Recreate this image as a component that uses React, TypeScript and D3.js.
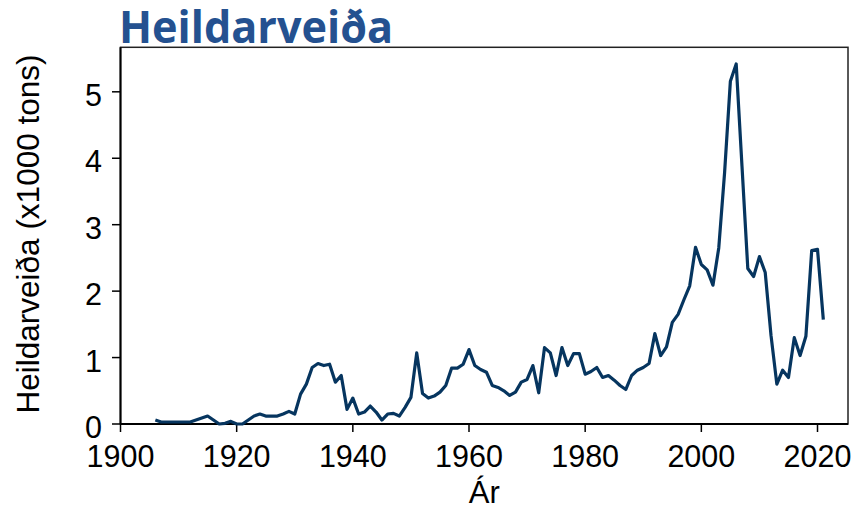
import React from "react";
import * as d3 from "d3";

const years: number[] = d3.range(1906, 2022);
const catch1000t: number[] = [
  0.06, 0.03, 0.03, 0.03, 0.03, 0.03, 0.03, 0.06, 0.09, 0.12, // 1906-1915
  0.06, 0.0, 0.01, 0.04, 0.0, 0.0, 0.06, 0.12, 0.15, 0.12, // 1916-1925
  0.12, 0.12, 0.15, 0.19, 0.15, 0.45, 0.6, 0.85, 0.91, 0.88, // 1926-1935
  0.9, 0.63, 0.73, 0.22, 0.39, 0.15, 0.18, 0.27, 0.18, 0.06, // 1936-1945
  0.15, 0.16, 0.12, 0.25, 0.4, 1.07, 0.46, 0.39, 0.42, 0.48, // 1946-1955
  0.58, 0.84, 0.84, 0.9, 1.12, 0.88, 0.82, 0.78, 0.58, 0.55, // 1956-1965
  0.5, 0.43, 0.48, 0.63, 0.67, 0.88, 0.47, 1.15, 1.07, 0.73, // 1966-1975
  1.15, 0.88, 1.06, 1.06, 0.75, 0.79, 0.85, 0.7, 0.73, 0.66, // 1976-1985
  0.58, 0.52, 0.73, 0.81, 0.85, 0.91, 1.36, 1.03, 1.16, 1.53, // 1986-1995
  1.65, 1.87, 2.08, 2.66, 2.4, 2.32, 2.09, 2.65, 3.78, 5.16, // 1996-2005
  5.42, 3.88, 2.34, 2.22, 2.52, 2.28, 1.33, 0.6, 0.81, 0.7, // 2006-2015
  1.3, 1.03, 1.32, 2.61, 2.63, 1.57, // 2016-2021
];
const xTicks: number[] = [1900, 1920, 1940, 1960, 1980, 2000, 2020];
const yTicks: number[] = [0, 1, 2, 3, 4, 5];
const title = "Heildarveiða";
const xLabel = "Ár";
const yLabel = "Heildarveiða (x1000 tons)";

export default function App() {
  const W = 854, H = 509;
  const left = 120.5, right = 848, top = 47.3, bottom = 424;
  const x = d3.scaleLinear().domain([1900, 2025.25]).range([left, right]);
  const y = d3.scaleLinear().domain([0, 5.67]).range([bottom, top]);
  const data = years.map((yr, i) => [yr, catch1000t[i]] as [number, number]);
  const line = d3.line<[number, number]>().x(d => x(d[0])).y(d => y(d[1]));
  const font = "'Liberation Sans', Arial, sans-serif";
  return (
    <svg width={W} height={H} style={{ position: "absolute", left: 0, top: 0, background: "#fff" }}>
      <rect x={0} y={0} width={W} height={H} fill="#fff" />
      <rect x={left} y={top} width={right - left} height={bottom - top} fill="none" stroke="#222" strokeWidth={1.5} />
      <line x1={left} x2={right} y1={bottom} y2={bottom} stroke="#000" strokeWidth={2} />
      <line x1={left} x2={left} y1={top} y2={bottom} stroke="#000" strokeWidth={2} />
      {xTicks.map(t => (
        <g key={"x" + t}>
          <line x1={x(t)} x2={x(t)} y1={bottom} y2={bottom + 8} stroke="#000" strokeWidth={1.5} />
          <text x={x(t)} y={467} textAnchor="middle" fontFamily={font} fontSize={30.5} fill="#000">{t}</text>
        </g>
      ))}
      {yTicks.map(t => (
        <g key={"y" + t}>
          <line x1={left - 8.5} x2={left} y1={y(t)} y2={y(t)} stroke="#000" strokeWidth={1.5} />
          <text x={102} y={y(t) + 14} textAnchor="end" fontFamily={font} fontSize={30.5} fill="#000">{t}</text>
        </g>
      ))}
      <path d={line(data) || ""} fill="none" stroke="#06355f" strokeWidth={3.2} strokeLinejoin="round" />
      <text x={(left + right) / 2} y={503} textAnchor="middle" fontFamily={font} fontSize={31} fill="#000">{xLabel}</text>
      <text transform={`translate(39,234) rotate(-90)`} textAnchor="middle" fontFamily={font} fontSize={31.5} fill="#000">{yLabel}</text>
      <text x={119} y={43.3} fontFamily="'Open Sans', sans-serif" fontWeight={700} fontSize={44} fill="#245190" textLength={274} lengthAdjust="spacingAndGlyphs">{title}</text>
    </svg>
  );
}
